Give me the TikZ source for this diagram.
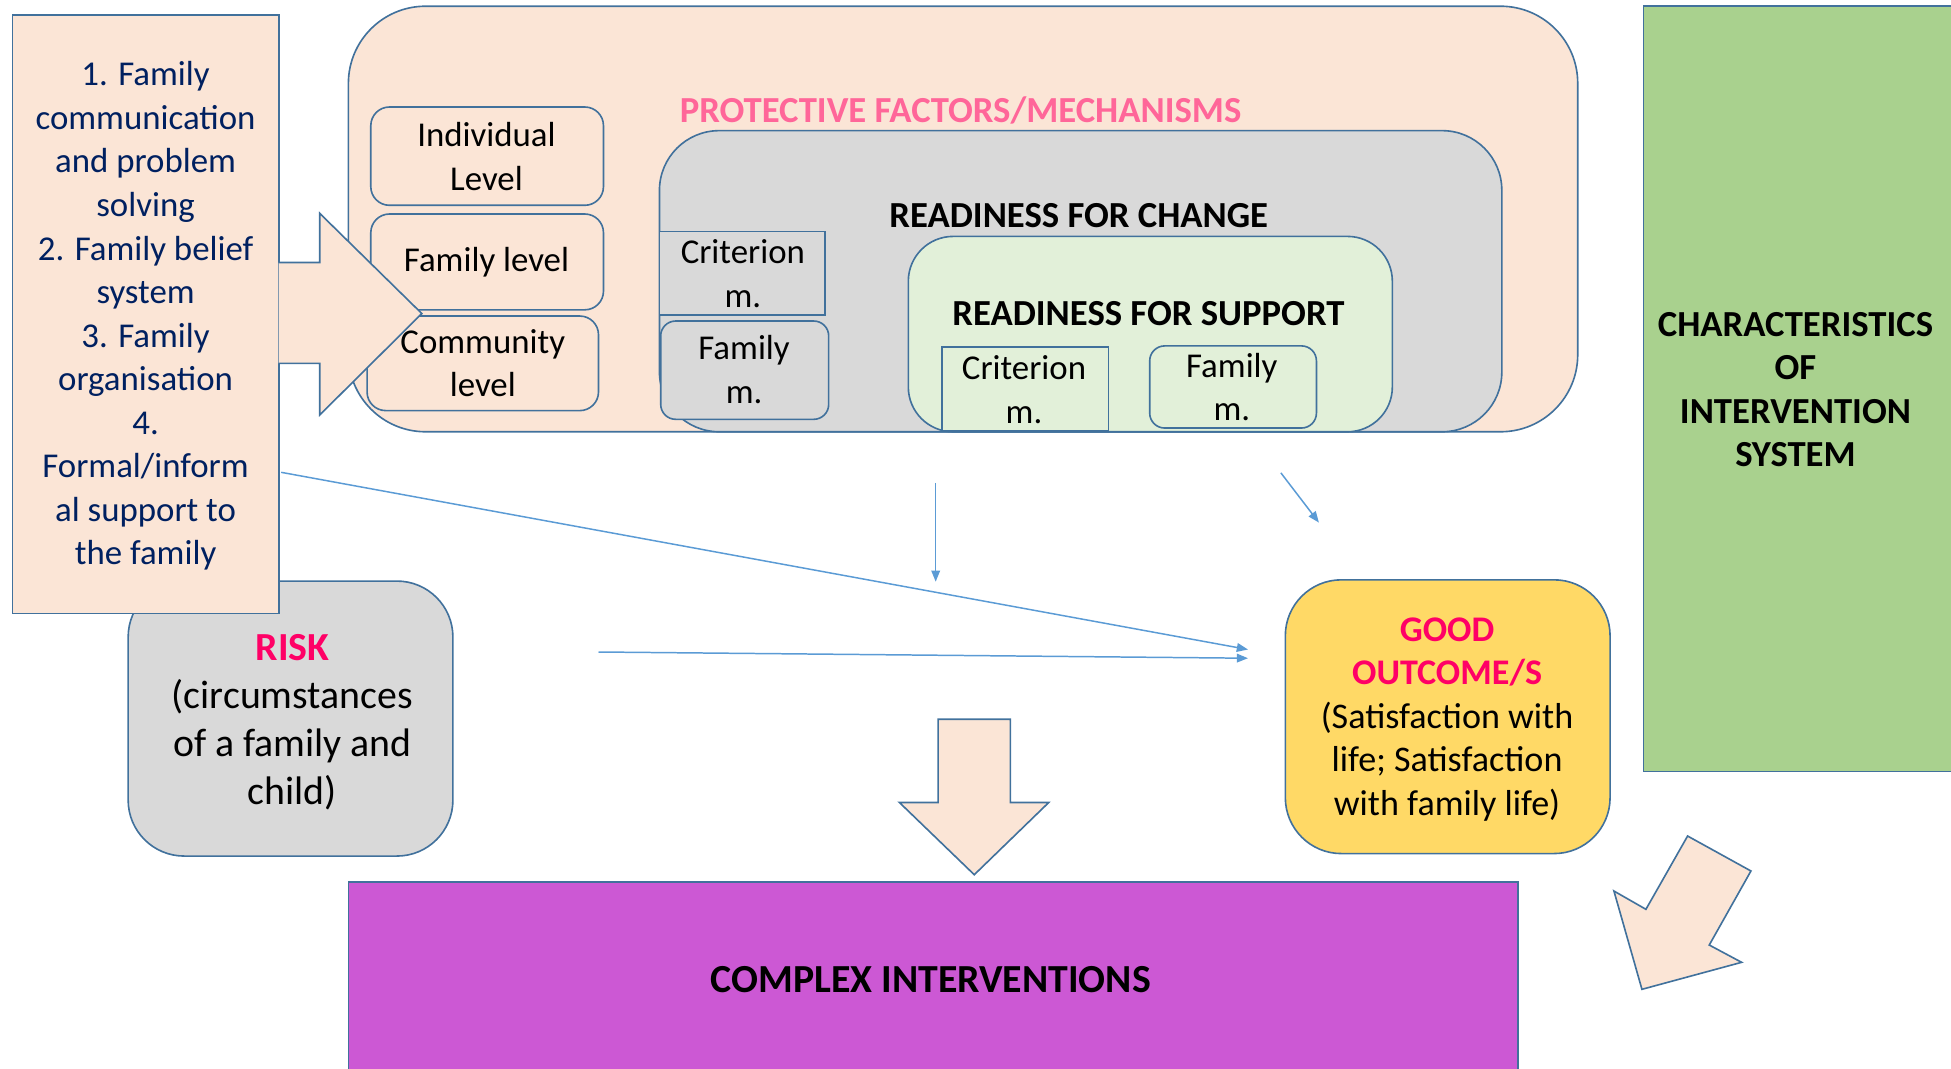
\documentclass[tikz,border=0pt]{standalone}
\usepackage{fontspec}
\setmainfont{Carlito}
\usetikzlibrary{arrows.meta}

\definecolor{peach}{HTML}{FBE5D6}
\definecolor{bord}{HTML}{41719C}
\definecolor{greyfill}{HTML}{D9D9D9}
\definecolor{palegreen}{HTML}{E2F0D9}
\definecolor{leafgreen}{HTML}{A9D18E}
\definecolor{gold}{HTML}{FFD966}
\definecolor{orchid}{HTML}{CC58D4}
\definecolor{navy}{HTML}{002060}
\definecolor{rosetitle}{HTML}{FF6699}
\definecolor{hotpink}{HTML}{FF0066}
\definecolor{linkblue}{HTML}{5B9BD5}

\begin{document}
\begin{tikzpicture}[x=1pt,y=-1pt,
  box/.style={draw=bord, line width=1.3pt, inner sep=0pt, outer sep=0pt},
  txt/.style={align=center, inner sep=0pt, font=\fontsize{28}{35}\selectfont},
  hd/.style={align=center, inner sep=0pt, font=\fontsize{29.5}{35}\selectfont\bfseries},
  link/.style={draw=linkblue, line width=1.2pt, -{Triangle[length=9pt,width=7pt]}},
  blockarrow/.style={fill=peach, draw=bord, line width=1.3pt, line join=miter}]

\clip (0,0) rectangle (1568,859);

% characteristics of the intervention system (runs off the right edge)
\node[box, fill=leafgreen, minimum width=300, minimum height=615] (chars) at (1471,312.5) {};
\node[hd] (charsT) at (1443,313) {CHARACTERISTICS\\OF\\INTERVENTION\\SYSTEM};

% protective factors / mechanisms
\node[box, fill=peach, rounded corners=62pt, minimum width=988, minimum height=342] (prot) at (774,176) {};
\node[hd, text=rosetitle] (protT) at (772,89) {PROTECTIVE FACTORS/MECHANISMS};

\node[box, fill=peach, rounded corners=15pt, minimum width=187, minimum height=79] (lvlA) at (391.5,125.5) {};
\node[txt] (lvlAT) at (391,126) {Individual\\Level};
\node[box, fill=peach, rounded corners=15pt, minimum width=187, minimum height=77] (lvlB) at (391.5,210.5) {};
\node[txt] (lvlBT) at (391,211) {Family level};
\node[box, fill=peach, rounded corners=15pt, minimum width=186, minimum height=76] (lvlC) at (388,292) {};
\node[txt] (lvlCT) at (388,292) {Community\\level};

% readiness for change
\node[box, fill=greyfill, rounded corners=48pt, minimum width=677, minimum height=242] (chg) at (868.5,226) {};
\node[hd] (chgT) at (867,173) {READINESS FOR CHANGE};
\node[box, fill=greyfill, minimum width=133, minimum height=67] (critA) at (596.5,219.5) {};
\node[txt] (critAT) at (597,220) {Criterion\\m.};
\node[box, fill=greyfill, rounded corners=12pt, minimum width=135, minimum height=79] (famA) at (598.5,297.5) {};
\node[txt] (famAT) at (598,297) {Family\\m.};

% readiness for support
\node[box, fill=palegreen, rounded corners=36pt, minimum width=389, minimum height=157] (sup) at (924.5,268.5) {};
\node[hd] (supT) at (923,252) {READINESS FOR SUPPORT};
\node[box, fill=palegreen, minimum width=134, minimum height=67] (critB) at (824,312.5) {};
\node[txt] (critBT) at (823,313) {Criterion\\m.};
\node[box, fill=palegreen, rounded corners=12pt, minimum width=134, minimum height=66] (famB) at (991,311) {};
\node[txt] (famBT) at (990,311) {Family\\m.};

% risk
\node[box, fill=greyfill, rounded corners=45pt, minimum width=261, minimum height=221] (risk) at (233.5,577.5) {};
\node[align=center, inner sep=0pt, font=\fontsize{32}{38.7}\selectfont] (riskT) at (235,580.5) {{\color{hotpink}\bfseries RISK}\\(circumstances\\of a family and\\child)};

% family processes
\node[box, fill=peach, minimum width=214, minimum height=481] (fam) at (117,252.5) {};
\node[txt, text=navy] (famT) at (117,254) {1. Family\\communication\\and problem\\solving\\2. Family belief\\system\\3. Family\\organisation\\4.\\Formal/inform\\al support to\\the family};

% block arrow from the family processes into the levels
\fill[peach] (224,211) -- (257,211) -- (257,171.5) -- (339,252) -- (257,333.5) -- (257,292) -- (224,292) -- cycle;
\draw[draw=bord, line width=1.3pt, line join=miter] (224,211) -- (257,211) -- (257,171.5) -- (339,252) -- (257,333.5) -- (257,292) -- (224,292);

% good outcome
\node[box, fill=gold, rounded corners=45pt, minimum width=261, minimum height=220] (good) at (1163.5,576) {};
\node[align=center, inner sep=0pt, font=\fontsize{29}{35}\selectfont] (goodT) at (1163,578) {{\color{hotpink}\bfseries GOOD}\\{\color{hotpink}\bfseries OUTCOME/S}\\(Satisfaction with\\life; Satisfaction\\with family life)};

% complex interventions
\node[box, fill=orchid, minimum width=940, minimum height=191] (cplx) at (750,804.5) {};
\node[align=center, inner sep=0pt, font=\fontsize{32}{38}\selectfont\bfseries] (cplxT) at (748,787) {COMPLEX INTERVENTIONS};

% block arrows into the complex interventions
\draw[blockarrow] (754,578) -- (812,578) -- (812,645) -- (842.8,645) -- (783,703) -- (722.9,645) -- (754,645) -- cycle;
\draw[blockarrow] (1356.3,671.9) -- (1407.2,700) -- (1373.7,759.5) -- (1399.7,773.4) -- (1319.6,795.1) -- (1297.1,716.1) -- (1322.8,730.8) -- cycle;

% thin connectors
\coordinate (famOut) at (226,379.6);
\coordinate (goodInA) at (1003,522);
\coordinate (riskOut) at (481,524);
\coordinate (goodInB) at (1003,529);
\coordinate (chgOut) at (752,388);
\coordinate (chgEnd) at (752,467.5);
\coordinate (supOut) at (1029.4,380);
\coordinate (supEnd) at (1060,420);
\draw[link] (famOut) -- (goodInA);
\draw[link] (riskOut) -- (goodInB);
\draw[link] (chgOut) -- (chgEnd);
\draw[link] (supOut) -- (supEnd);
\end{tikzpicture}
\end{document}
